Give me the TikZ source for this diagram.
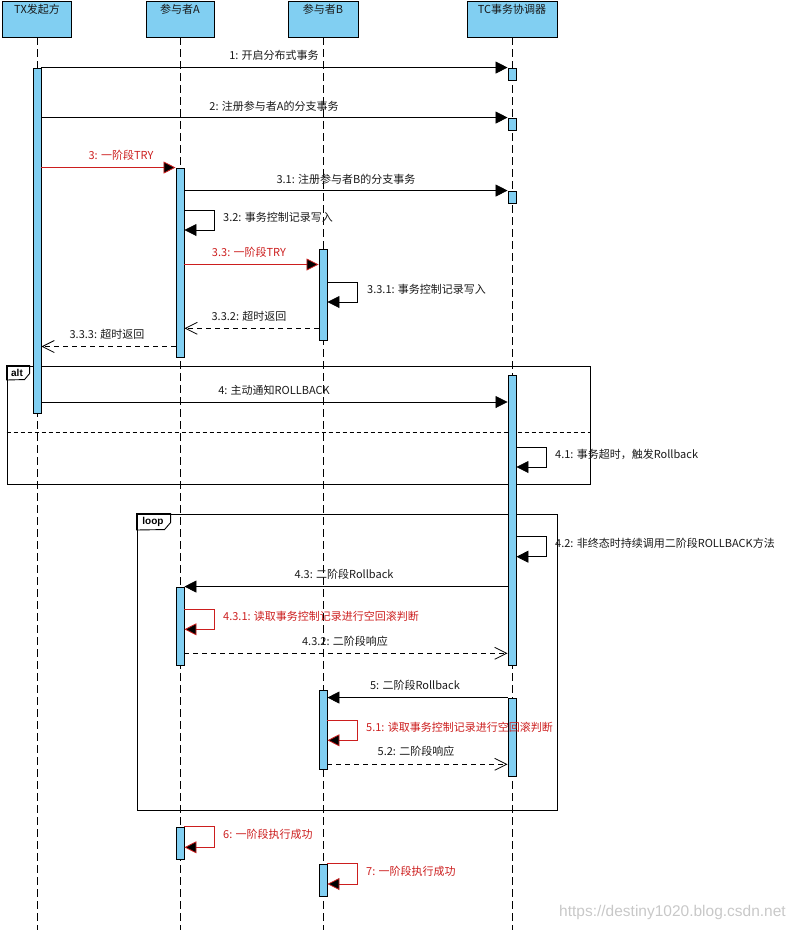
\documentclass[tikz,border=0pt]{standalone}
\usepackage{fontspec}
\setmainfont{Noto Sans CJK SC}
\newfontfamily\tagfont{Liberation Sans}
\newfontfamily\wmfont{Liberation Sans}
\usetikzlibrary{arrows.meta}
\definecolor{actblue}{RGB}{129,207,242}
\definecolor{msgred}{RGB}{204,30,30}
\definecolor{wmgray}{RGB}{200,200,200}
\definecolor{txtblack}{RGB}{25,25,25}
\begin{document}
\begin{tikzpicture}[x=1pt,y=-1pt, font=\fontsize{11}{13}\selectfont,
  head/.style={draw, fill=actblue, line width=0.9pt, minimum height=36pt, inner sep=0pt},
  life/.style={dash pattern=on 8pt off 4pt, line width=0.8pt},
  actbar/.style={draw, fill=actblue, line width=0.9pt, minimum width=8pt, inner sep=0pt},
  msg/.style={line width=0.8pt, -{Triangle[length=12pt,width=12pt]}},
  redmsg/.style={line width=0.8pt, draw=msgred, -{Triangle[length=12pt,width=12pt,fill=black]}},
  retmsg/.style={line width=0.8pt, dash pattern=on 5pt off 4pt, -{Straight Barb[length=12pt,width=12pt]}},
  lbl/.style={inner sep=0pt, text=txtblack},
  redlbl/.style={inner sep=0pt, text=msgred},
  frame/.style={draw, line width=0.9pt, inner sep=0pt},
  tab/.style={line width=0.9pt},
  tagtxt/.style={inner sep=0pt, font=\tagfont\bfseries\fontsize{10}{12}\selectfont},
]
\useasboundingbox (0,0) rectangle (794,930);

% headers
\node[head, minimum width=69pt, label={[lbl,anchor=north,yshift=-3pt]north:TX发起方}] (htx) at (37,19) {};
\node[head, minimum width=68pt, label={[lbl,anchor=north,yshift=-3pt]north:参与者A}] (ha) at (180,19) {};
\node[head, minimum width=70pt, label={[lbl,anchor=north,yshift=-3pt]north:参与者B}] (hb) at (323,19) {};
\node[head, minimum width=90pt, label={[lbl,anchor=north,yshift=-3pt]north:TC事务协调器}] (htc) at (512,19) {};

% lifelines
\coordinate (etx) at (37,930);
\coordinate (ea) at (180,930);
\coordinate (eb) at (323,930);
\coordinate (etc) at (512,930);
\draw[life] (htx.south) -- (etx);
\draw[life] (ha.south) -- (ea);
\draw[life] (hb.south) -- (eb);
\draw[life] (htc.south) -- (etc);

% frames
\node[frame, minimum width=583pt, minimum height=118pt] (alt) at (298.5,425) {};
\draw[tab] (alt.north west) -- ++(23,0) -- ++(0,8) -- ++(-5,6) -- (alt.north west |- 0,380) -- cycle;
\node[tagtxt] (altt) at (17,373) {alt};
\draw[line width=0.8pt, dash pattern=on 4pt off 3pt] (alt.west |- 0,432) -- (alt.east |- 0,432);

\node[frame, minimum width=420pt, minimum height=296pt] (loop) at (347,662) {};
\draw[tab] (loop.north west) -- ++(34,0) -- ++(0,9) -- ++(-6,7) -- (loop.north west |- 0,530) -- cycle;
\node[tagtxt] (loopt) at (153,521.5) {loop};

% activation bars
\node[actbar, minimum height=345pt] (atx) at (37,240.5) {};
\node[actbar, minimum height=12pt] (tc1) at (512,74) {};
\node[actbar, minimum height=12pt] (tc2) at (512,124) {};
\node[actbar, minimum height=12pt] (tc3) at (512,197) {};
\node[actbar, minimum height=189pt] (a1) at (180,262.5) {};
\node[actbar, minimum height=91pt] (b1) at (323,294.5) {};
\node[actbar, minimum height=290pt] (tc4) at (512,520) {};
\node[actbar, minimum height=78pt] (a2) at (180,626) {};
\node[actbar, minimum height=79pt] (b2) at (323,729.5) {};
\node[actbar, minimum height=78pt] (tc5) at (512,737) {};
\node[actbar, minimum height=32pt] (a3) at (180,843) {};
\node[actbar, minimum height=32pt] (b3) at (323,880) {};

% messages
\draw[msg] (atx.east |- tc1.north west) -- (tc1.north west);
\node[lbl] (l1) at (274,55) {1: 开启分布式事务};
\draw[msg] (atx.east |- tc2.north west) -- (tc2.north west);
\node[lbl] (l2) at (274,106) {2: 注册参与者A的分支事务};
\draw[redmsg] (atx.east |- a1.north west) -- (a1.north west);
\node[redlbl] (l3) at (121,155) {3: 一阶段TRY};
\draw[msg] (a1.east |- tc3.north west) -- (tc3.north west);
\node[lbl] (l31) at (346,179) {3.1: 注册参与者B的分支事务};
\draw[msg] (a1.east |- 0,210) -- ++(30,0) |- (a1.east |- 0,230);
\node[lbl, anchor=west] (l32) at (223,217) {3.2: 事务控制记录写入};
\draw[redmsg] (a1.east |- 0,264.5) -- (b1.west |- 0,264.5);
\node[redlbl] (l33) at (249,252) {3.3: 一阶段TRY};
\draw[msg] (b1.east |- 0,282.5) -- ++(30,0) |- (b1.east |- 0,302);
\node[lbl, anchor=west] (l331) at (367,289) {3.3.1: 事务控制记录写入};
\draw[retmsg] (b1.west |- 0,328.3) -- (a1.east |- 0,328.3);
\node[lbl] (l332) at (249,316) {3.3.2: 超时返回};
\draw[retmsg] (a1.west |- 0,346.5) -- (atx.east |- 0,346.5);
\node[lbl] (l333) at (107,334) {3.3.3: 超时返回};

\draw[msg] (atx.east |- 0,402) -- (tc4.west |- 0,402);
\node[lbl] (l4) at (274,390) {4: 主动通知ROLLBACK};
\draw[msg] (tc4.east |- 0,447) -- ++(30,0) |- (tc4.east |- 0,467);
\node[lbl, anchor=west] (l41) at (555,454) {4.1: 事务超时，触发Rollback};

\draw[msg] (tc4.east |- 0,536.3) -- ++(30,0) |- (tc4.east |- 0,556.7);
\node[lbl, anchor=west] (l42) at (555,543) {4.2: 非终态时持续调用二阶段ROLLBACK方法};
\draw[msg] (tc4.west |- a2.north east) -- (a2.north east);
\node[lbl] (l43) at (344,574) {4.3: 二阶段Rollback};
\draw[redmsg] (a2.east |- 0,609.3) -- ++(30,0) |- (a2.east |- 0,629.3);
\node[redlbl, anchor=west] (l431) at (223,616.5) {4.3.1: 读取事务控制记录进行空回滚判断};
\draw[retmsg] (a2.east |- 0,653.3) -- (tc4.west |- 0,653.3);
\node[lbl] (l432) at (345,641) {4.3.2: 二阶段响应};

\draw[msg] (tc5.north west) -- (b2.east |- tc5.north west);
\node[lbl] (l5) at (415,685) {5: 二阶段Rollback};
\draw[redmsg] (b2.east |- 0,720.7) -- ++(30,0) |- (b2.east |- 0,740.3);
\node[redlbl, anchor=west] (l51) at (366,727) {5.1: 读取事务控制记录进行空回滚判断};
\draw[retmsg] (b2.east |- 0,764.3) -- (tc5.west |- 0,764.3);
\node[lbl] (l52) at (416,751.5) {5.2: 二阶段响应};

\draw[redmsg] (a3.north east) -- ++(30,0) |- (a3.east |- 0,847.3);
\node[redlbl, anchor=west] (l6) at (223,834) {6: 一阶段执行成功};
\draw[redmsg] (b3.north east) -- ++(30,0) |- (b3.east |- 0,884);
\node[redlbl, anchor=west] (l7) at (366,871) {7: 一阶段执行成功};

% watermark
\node[anchor=east, inner sep=0pt, text=wmgray, font=\wmfont\fontsize{15.5}{17}\selectfont] (wm) at (786,912) {https://destiny1020.blog.csdn.net};
\end{tikzpicture}
\end{document}
